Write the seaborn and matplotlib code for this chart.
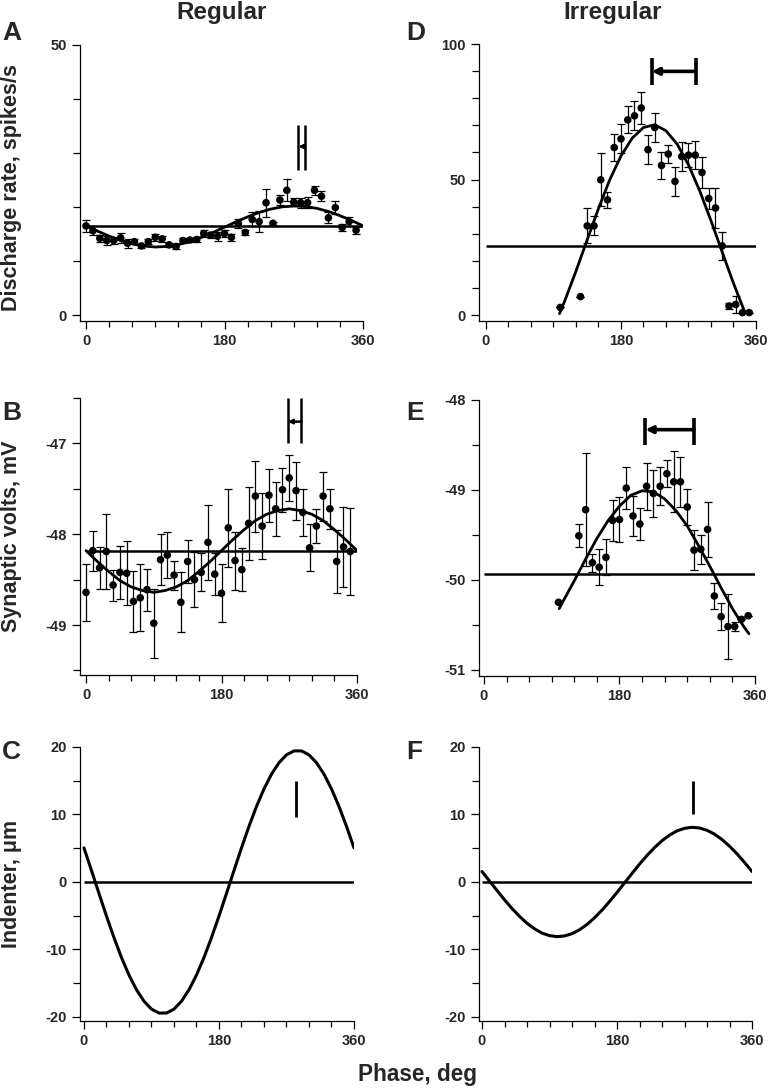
import numpy as np
import pandas as pd
import matplotlib
matplotlib.use('Agg')
import matplotlib.pyplot as plt
from matplotlib.ticker import FixedLocator, MultipleLocator
import seaborn as sns

sns.set_theme(style='ticks')
plt.rcParams['font.family'] = ['Liberation Sans', 'DejaVu Sans']
plt.rcParams['font.weight'] = 'bold'

# ---- data ----
PHASE_REG = [0, 9, 18, 27, 36, 45, 54, 63, 72, 81, 90, 99, 108, 117, 126, 135, 144, 153, 162, 171,
             180, 189, 198, 207, 216, 225, 234, 243, 252, 261, 270, 279, 288, 297, 306, 315, 324, 333, 342, 351]
PHASE_IRR = [99, 126, 135, 144, 153, 162, 171, 180, 189, 198, 207, 216, 225, 234, 243, 252, 261, 270,
             279, 288, 297, 306, 315, 324, 333, 342, 351]

RATE_REG = [16.5, 15.6, 14.2, 13.8, 13.8, 14.3, 13.3, 13.6, 12.8, 13.6, 14.4, 14.1, 13.0, 12.7, 13.8, 13.9,
            14.0, 15.1, 14.8, 14.6, 15.1, 14.4, 16.9, 15.3, 17.7, 17.3, 20.8, 17.0, 21.3, 23.1, 20.9, 20.8,
            20.8, 23.1, 22.0, 18.0, 19.9, 16.2, 17.3, 15.7]
RATE_REG_ERR = [1.1, 0.8, 0.7, 0.9, 0.6, 0.9, 0.8, 0.5, 0.4, 0.5, 0.7, 0.5, 0.4, 0.4, 0.4, 0.4, 0.4, 0.6,
                0.5, 0.8, 0.6, 0.7, 0.8, 0.4, 1.3, 2.0, 2.6, 0.3, 1.0, 2.0, 0.8, 0.9, 1.0, 0.8, 0.9, 1.0,
                1.2, 0.6, 0.8, 0.6]

VOLT_REG = [-48.64, -48.18, -48.37, -48.19, -48.56, -48.42, -48.43, -48.74, -48.70, -48.61, -48.98, -48.28,
            -48.23, -48.45, -48.75, -48.30, -48.50, -48.42, -48.09, -48.44, -48.65, -47.93, -48.29, -48.39,
            -47.88, -47.58, -47.91, -47.57, -47.72, -47.51, -47.38, -47.52, -47.76, -48.15, -47.91, -47.58,
            -47.72, -48.30, -48.14, -48.19]
VOLT_REG_ERR = [0.31, 0.22, 0.23, 0.41, 0.17, 0.29, 0.35, 0.34, 0.37, 0.23, 0.38, 0.28, 0.25, 0.16, 0.33,
                0.24, 0.30, 0.21, 0.41, 0.23, 0.32, 0.43, 0.32, 0.24, 0.40, 0.39, 0.36, 0.29, 0.30, 0.24,
                0.25, 0.32, 0.26, 0.26, 0.19, 0.27, 0.22, 0.35, 0.44, 0.48]

RATE_IRR = [2.8, 6.8, 32.9, 32.9, 49.9, 42.5, 61.8, 65.0, 72.0, 73.5, 76.4, 61.0, 69.2, 55.2, 59.4, 49.3,
            58.5, 59.0, 59.0, 52.6, 43.0, 39.5, 25.5, 3.3, 3.9, 0.9, 0.9]
RATE_IRR_ERR = [0, 0, 6.5, 3.5, 9.7, 3.0, 5.0, 5.4, 5.0, 5.4, 6.0, 5.3, 5.5, 5.0, 3.4, 5.5, 5.3, 4.5, 5.2,
                5.8, 4.0, 7.4, 5.3, 1.2, 3.0, 0, 0]

VOLT_IRR = [-50.25, -49.51, -49.22, -49.81, -49.86, -49.75, -49.34, -49.33, -48.98, -49.29, -49.38, -48.96,
            -49.04, -48.96, -48.82, -48.91, -48.91, -49.19, -49.67, -49.66, -49.44, -50.18, -50.41, -50.52,
            -50.52, -50.44, -50.40]
VOLT_IRR_ERR = [0, 0.13, 0.63, 0.10, 0.20, 0.20, 0.23, 0.25, 0.23, 0.22, 0.18, 0.26, 0.26, 0.21, 0.15, 0.34,
                0.28, 0.20, 0.22, 0.16, 0.31, 0.15, 0.15, 0.36, 0.05, 0, 0]

# fitted curves, read every 15 deg
FIT_PHASE = [0, 15, 30, 45, 60, 75, 90, 105, 120, 135, 150, 165, 180, 195, 210, 225, 240, 255, 270, 285,
             300, 315, 330, 345, 360]
FIT_RATE_REG = [16.53, 15.55, 14.62, 13.81, 13.18, 12.77, 12.60, 12.70, 13.04, 13.62, 14.39, 15.29, 16.27,
                17.26, 18.18, 18.99, 19.62, 20.03, 20.20, 20.10, 19.76, 19.18, 18.41, 17.51, 16.53]
FIT_VOLT_REG = [-48.18, -48.30, -48.41, -48.51, -48.58, -48.62, -48.64, -48.62, -48.58, -48.51, -48.41,
                -48.30, -48.18, -48.06, -47.95, -47.85, -47.78, -47.74, -47.72, -47.74, -47.78, -47.85,
                -47.95, -48.06, -48.18]

# indenter traces, read every 10 deg
IND_PHASE = [0, 10, 20, 30, 40, 50, 60, 70, 80, 90, 100, 110, 120, 130, 140, 150, 160, 170, 180, 190,
             200, 210, 220, 230, 240, 250, 260, 270, 280, 290, 300, 310, 320, 330, 340, 350, 360]
INDENT_REG = [5.05, 1.70, -1.70, -5.05, -8.25, -11.19, -13.79, -15.97, -17.67, -18.84, -19.42, -19.42,
              -18.84, -17.67, -15.97, -13.79, -11.19, -8.25, -5.05, -1.70, 1.70, 5.05, 8.25, 11.19, 13.79,
              15.97, 17.67, 18.84, 19.42, 19.42, 18.84, 17.67, 15.97, 13.79, 11.19, 8.25, 5.05]
INDENT_IRR = [1.55, 0.14, -1.26, -2.64, -3.93, -5.09, -6.12, -6.94, -7.57, -7.95, -8.10, -8.00, -7.66,
              -7.09, -6.29, -5.31, -4.17, -2.90, -1.55, -0.14, 1.26, 2.64, 3.93, 5.09, 6.12, 6.94, 7.57,
              7.95, 8.10, 8.00, 7.66, 7.09, 6.29, 5.31, 4.17, 2.90, 1.55]

FIT_PHASE_D = [98, 105, 120, 135, 150, 165, 180, 195, 210, 225, 240, 255, 270, 285, 300, 315, 330, 345]
FIT_RATE_IRR = [0.5, 5.2, 16.2, 27.8, 39.3, 49.9, 58.7, 65.3, 69.2, 70.2, 68.0, 63.0, 55.4, 45.8, 34.8,
                23.2, 11.7, 1.1]
FIT_PHASE_E = [100, 105, 120, 135, 150, 165, 180, 195, 210, 225, 240, 255, 270, 285, 300, 315, 330, 345, 352]
FIT_VOLT_IRR = [-50.32, -50.24, -50.01, -49.77, -49.54, -49.34, -49.18, -49.06, -49.01, -49.02, -49.10,
                -49.23, -49.40, -49.62, -49.85, -50.09, -50.32, -50.52, -50.60]

# mean levels (horizontal lines)
MEANS = {'A': 16.4, 'B': -48.18, 'C': 0.0, 'D': 25.5, 'E': -49.93, 'F': 0.0}

# phase markers: (left phase, right phase, y bottom, y top, arrow y)
MARK_A = [276, 285, 26.9, 35.2, 31.2]
MARK_B = [268, 286, -47.0, -46.5, -46.76]
MARK_D = [221, 279.5, 85.0, 94.8, 89.9]
MARK_E = [214.5, 279, -48.5, -48.2, -48.33]
# single tick: (phase, y bottom, y top)
MARK_C = [283, 9.7, 14.9]
MARK_F = [281, 10.0, 15.0]

W, H = 771, 1090


def make_ax(fig, left, right, top, bottom):
    return fig.add_axes([left / W, 1 - bottom / H, (right - left) / W, (bottom - top) / H])


def style_ax(ax, xlim, ylim, yticks, yminor):
    ax.set_xlim(*xlim)
    ax.set_ylim(*ylim)
    ax.xaxis.set_major_locator(FixedLocator([0, 180, 360]))
    ax.xaxis.set_minor_locator(MultipleLocator(30))
    ax.yaxis.set_major_locator(FixedLocator(yticks))
    ax.yaxis.set_minor_locator(MultipleLocator(yminor))
    ax.set_yticklabels([f'{t:g}' for t in yticks])
    sns.despine(ax=ax)
    for s in ['left', 'bottom']:
        ax.spines[s].set_linewidth(0.9)
        ax.spines[s].set_color('black')
    ax.tick_params(which='major', direction='out', length=6, width=0.9, labelsize=10.5, color='black')
    ax.tick_params(which='minor', direction='out', length=4, width=0.9, color='black')
    ax.tick_params(axis='y', which='minor', length=5)
    ax.set_xlabel('')
    ax.set_ylabel('')
    ax.grid(False)


def data_panel(ax, phase, vals, errs, fit_x, fit_y, mean):
    ax.hlines(mean, 0, 360, color='black', lw=1.8, zorder=2)
    fit = pd.DataFrame({'phase': fit_x, 'val': fit_y})
    sns.lineplot(data=fit, x='phase', y='val', color='black', lw=2.0, sort=False,
                 estimator=None, ax=ax, zorder=3)
    ax.errorbar(phase, vals, yerr=errs, fmt='none', ecolor='black', elinewidth=0.9,
                capsize=3.2, capthick=0.9, zorder=4)
    pts = pd.DataFrame({'phase': phase, 'val': vals})
    sns.scatterplot(data=pts, x='phase', y='val', color='black', s=30, edgecolor='none',
                    ax=ax, zorder=5)


def arrow_mark(ax, m, lw=2.2, head=9):
    x0, x1, yb, yt, ya = m
    ax.vlines([x0, x1], yb, yt, color='black', lw=lw, clip_on=False, zorder=6)
    ax.annotate('', xy=(x0, ya), xytext=(x1, ya), annotation_clip=False,
                arrowprops=dict(arrowstyle='-|>', color='black', lw=lw, mutation_scale=head,
                                shrinkA=0, shrinkB=0))


def indenter_panel(ax, curve, mark):
    ax.hlines(0, 0, 360, color='black', lw=1.8, zorder=2)
    df = pd.DataFrame({'phase': IND_PHASE, 'val': curve})
    sns.lineplot(data=df, x='phase', y='val', color='black', lw=2.2, sort=False,
                 estimator=None, ax=ax, zorder=3)
    ax.vlines(mark[0], mark[1], mark[2], color='black', lw=2.0)


fig = plt.figure(figsize=(W / 100, H / 100), dpi=100)

# A
axA = make_ax(fig, 80, 363, 45, 321)
data_panel(axA, PHASE_REG, RATE_REG, RATE_REG_ERR, FIT_PHASE, FIT_RATE_REG, MEANS['A'])
arrow_mark(axA, MARK_A, lw=1.8, head=6)
style_ax(axA, (-7.8, 360), (-1.1, 50), [0, 50], 10)

# B
axB = make_ax(fig, 80, 357, 398, 675)
data_panel(axB, PHASE_REG, VOLT_REG, VOLT_REG_ERR, FIT_PHASE, FIT_VOLT_REG, MEANS['B'])
arrow_mark(axB, MARK_B, lw=1.8, head=6)
style_ax(axB, (-8, 360), (-49.55, -46.5), [-49, -48, -47], 0.5)

# C
axC = make_ax(fig, 80, 354, 747, 1021)
indenter_panel(axC, INDENT_REG, MARK_C)
style_ax(axC, (-5.3, 360), (-20.6, 20), [-20, -10, 0, 10, 20], 5)

# D
axD = make_ax(fig, 479, 756, 44, 321)
data_panel(axD, PHASE_IRR, RATE_IRR, RATE_IRR_ERR, FIT_PHASE_D, FIT_RATE_IRR, MEANS['D'])
arrow_mark(axD, MARK_D, lw=2.6, head=10)
style_ax(axD, (-9.3, 360), (-2.2, 100), [0, 50, 100], 10)

# E
axE = make_ax(fig, 479, 755, 400, 676)
data_panel(axE, PHASE_IRR, VOLT_IRR, VOLT_IRR_ERR, FIT_PHASE_E, FIT_VOLT_IRR, MEANS['E'])
arrow_mark(axE, MARK_E, lw=2.6, head=10)
style_ax(axE, (-6.6, 360), (-51.07, -48), [-51, -50, -49, -48], 0.5)

# F
axF = make_ax(fig, 479, 752, 747, 1021)
indenter_panel(axF, INDENT_IRR, MARK_F)
style_ax(axF, (-4, 360), (-20.6, 20), [-20, -10, 0, 10, 20], 5)

# text
fig.text(222 / W, 1 - 13 / H, 'Regular', ha='center', va='center', fontsize=17.5, fontweight='bold')
fig.text(613 / W, 1 - 13 / H, 'Irregular', ha='center', va='center', fontsize=17.5, fontweight='bold')
for letter, x, y in [('A', 2, 33), ('D', 406, 33), ('B', 2, 413), ('E', 406, 413),
                     ('C', 2, 752), ('F', 406, 752)]:
    fig.text(x / W, 1 - y / H, letter, ha='left', va='center', fontsize=19, fontweight='bold')
for label, y in [('Discharge rate, spikes/s', 188), ('Synaptic volts, mV', 536), ('Indenter, μm', 884)]:
    fig.text(12 / W, 1 - y / H, label, ha='center', va='center', rotation=90,
             fontsize=15.5, fontweight='bold')
fig.text(417 / W, 1 - 1075 / H, 'Phase, deg', ha='center', va='center', fontsize=16.3, fontweight='bold')

fig.savefig('out.png', dpi=100)
